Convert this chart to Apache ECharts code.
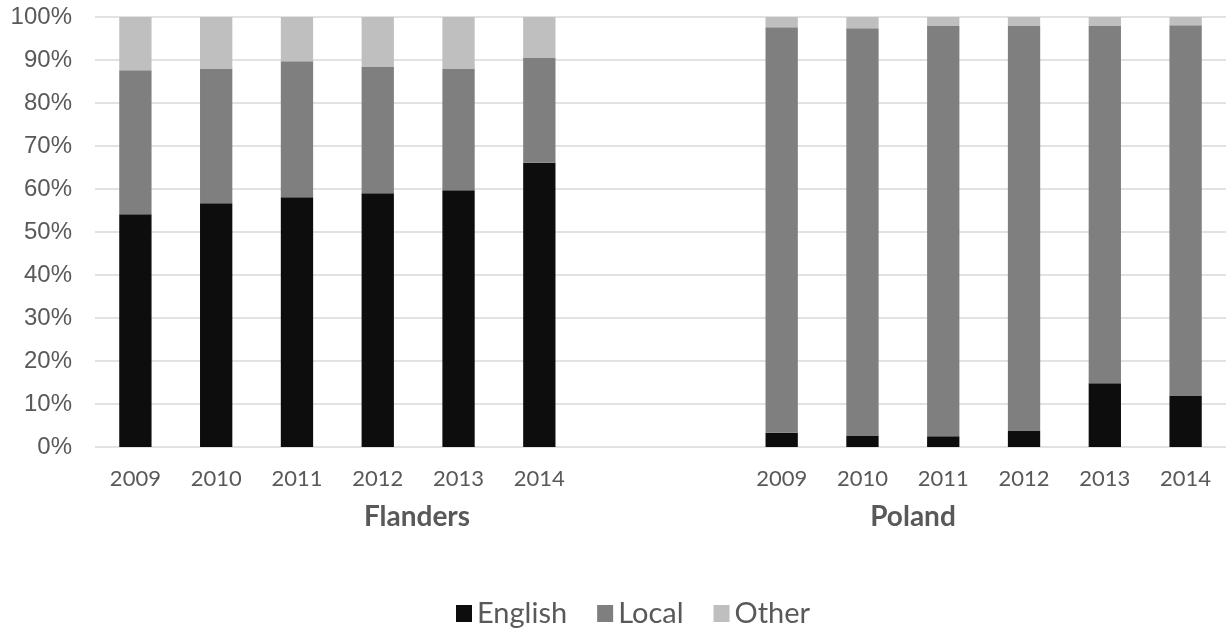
<!DOCTYPE html>
<html>
<head>
<meta charset="utf-8">
<script src="https://cdn.jsdelivr.net/npm/echarts@6/dist/echarts.min.js"></script>
<style>
  html, body { margin: 0; padding: 0; background: #fff; }
  #chart { width: 1231px; height: 629px; }
</style>
</head>
<body>
<div id="chart"></div>
<script>
// Years shown for each region
const years = ['2009', '2010', '2011', '2012', '2013', '2014'];
const regions = ['Flanders', 'Poland'];

// Share of each language (percent), per year
const flandersEnglish = [54.1, 56.7, 58.1, 59.0, 59.7, 66.1];
const flandersLocal   = [33.5, 31.3, 31.6, 29.5, 28.3, 24.5];
const flandersOther   = [12.4, 12.0, 10.3, 11.5, 12.0, 9.4];

const polandEnglish = [3.3, 2.7, 2.5, 3.7, 14.8, 12.0];
const polandLocal   = [94.3, 94.7, 95.4, 94.2, 83.1, 86.1];
const polandOther   = [2.4, 2.6, 2.1, 2.1, 2.1, 1.9];

const yTicks = [0, 10, 20, 30, 40, 50, 60, 70, 80, 90, 100];

// Two blank slots separate the regions on the category axis
const gap = ['', ''];
const gapData = ['-', '-'];
const categories = years.concat(gap, years);
const join = (a, b) => a.concat(gapData, b);

const labelColor = '#595959';
const chart = echarts.init(document.getElementById('chart'), null, { renderer: 'canvas' });

chart.setOption({
  animation: false,
  backgroundColor: '#ffffff',
  grid: { left: 95, right: 5, top: 17, bottom: 182, containLabel: false },
  xAxis: {
    type: 'category',
    data: categories,
    axisLine: { show: false },
    axisTick: { show: false },
    axisLabel: {
      color: labelColor,
      fontFamily: 'Lato',
      fontSize: 22,
      margin: 21,
      interval: 0
    }
  },
  yAxis: {
    type: 'value',
    min: yTicks[0],
    max: yTicks[yTicks.length - 1],
    interval: 10,
    axisLine: { show: false },
    axisTick: { show: false },
    splitLine: { lineStyle: { color: '#d9d9d9', width: 1.5 } },
    axisLabel: {
      color: labelColor,
      fontFamily: 'Liberation Sans',
      fontSize: 24,
      margin: 23,
      formatter: v => v + '%'
    }
  },
  legend: {
    top: 594,
    left: 451,
    itemWidth: 16,
    itemHeight: 17,
    itemGap: 30,
    icon: 'rect',
    textStyle: { color: labelColor, fontFamily: 'Lato', fontSize: 29 },
    data: ['English', 'Local', 'Other']
  },
  series: [
    { name: 'English', type: 'bar', stack: 'lang', barWidth: '40%', itemStyle: { color: '#0d0d0d' }, data: join(flandersEnglish, polandEnglish) },
    { name: 'Local',   type: 'bar', stack: 'lang', barWidth: '40%', itemStyle: { color: '#7f7f7f' }, data: join(flandersLocal, polandLocal) },
    { name: 'Other',   type: 'bar', stack: 'lang', barWidth: '40%', itemStyle: { color: '#bfbfbf' }, data: join(flandersOther, polandOther) }
  ],
  graphic: [
    { type: 'text', x: 417, y: 517, style: { text: regions[0], fill: labelColor, font: 'bold 28px Lato', textAlign: 'center', textVerticalAlign: 'middle' } },
    { type: 'text', x: 913, y: 517, style: { text: regions[1], fill: labelColor, font: 'bold 28px Lato', textAlign: 'center', textVerticalAlign: 'middle' } }
  ]
});
</script>
</body>
</html>
